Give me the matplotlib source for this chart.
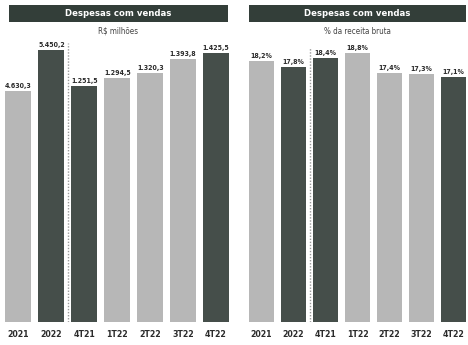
import matplotlib
matplotlib.use("Agg")
import matplotlib.pyplot as plt
from matplotlib.patches import Rectangle

plt.rcParams['font.family'] = ['DejaVu Sans']
plt.rcParams['font.stretch'] = 'condensed'

# Periods
annual_labels = ["2021", "2022"]
quarter_labels = ["4T21", "1T22", "2T22", "3T22", "4T22"]

# Despesas com vendas, R$ milhões
annual_brl = [4630.3, 5450.2]
quarter_brl = [1251.5, 1294.5, 1320.3, 1393.8, 1425.5]

# Despesas com vendas, % da receita bruta
annual_pct = [18.2, 17.8]
quarter_pct = [18.4, 18.8, 17.4, 17.3, 17.1]

brl_text_annual = ["4.630,3", "5.450,2"]
brl_text_quarter = ["1.251,5", "1.294,5", "1.320,3", "1.393,8", "1.425,5"]

LIGHT = "#b7b7b7"
DARK = "#454e4a"
BAND = "#333e39"
TXT = "#2b2b2b"

annual_colors = [LIGHT, DARK]
quarter_colors = [DARK, LIGHT, LIGHT, LIGHT, DARK]

W, H = 468, 345
fig = plt.figure(figsize=(W / 100, H / 100), dpi=100)
fig.patch.set_facecolor("white")

def fx(px):
    return px / W

def fy(py):
    return 1 - py / H

bottom_px, top_px = 322, 40
ax_h = (bottom_px - top_px) / H
bar_w = 0.79
lab_kw = dict(ha="center", va="bottom", fontsize=5.0, fontweight="bold", color=TXT)

def panel(left_px, width_px, band_l, band_w, title, subtitle):
    ax = fig.add_axes([fx(left_px), fy(bottom_px), fx(width_px), ax_h])
    ax.set_xlim(-0.5, 6.5)
    for s in ax.spines.values():
        s.set_visible(False)
    ax.set_yticks([])
    ax.set_xticks(range(7))
    ax.set_xticklabels(annual_labels + quarter_labels, fontsize=6.3,
                       fontweight="bold", color=TXT)
    ax.tick_params(axis="x", length=0, pad=6)
    ax.patch.set_alpha(0)
    # title band
    fig.patches.append(Rectangle((fx(band_l), fy(22)), fx(band_w), 17 / H,
                                 transform=fig.transFigure, facecolor=BAND,
                                 edgecolor="none", zorder=0))
    fig.text(fx(band_l + band_w / 2), fy(13.5), title, ha="center", va="center",
             fontsize=6.8, fontweight="bold", color="white")
    fig.text(fx(band_l + band_w / 2), fy(31), subtitle, ha="center", va="center",
             fontsize=5.8, color="#444444")
    return ax

# Left panel: R$ milhões (annual and quarterly on their own scales)
axL = panel(2, 230.5, 9, 219, "Despesas com vendas", "R$ milhões")
axL.set_ylim(0, max(annual_brl) * 282 / 272)
xa = [0, 1]
xq = [2, 3, 4, 5, 6]
axL.bar(xa, annual_brl, width=bar_w, color=annual_colors)
for x, v, t in zip(xa, annual_brl, brl_text_annual):
    axL.annotate(t, (x, v), xytext=(0, 1.5), textcoords="offset points", **lab_kw)
axLq = axL.twinx()
axLq.set_ylim(0, max(quarter_brl) * 282 / 269)
axLq.set_yticks([])
for s in axLq.spines.values():
    s.set_visible(False)
axLq.bar(xq, quarter_brl, width=bar_w, color=quarter_colors)
for x, v, t in zip(xq, quarter_brl, brl_text_quarter):
    axLq.annotate(t, (x, v), xytext=(0, 1.5), textcoords="offset points", **lab_kw)
axL.axvline(1.5, ymin=0, ymax=0.99, color="#9a9a9a", linestyle=(0, (1, 1.2)), lw=1.0)

# Right panel: % da receita bruta
axR = panel(245.5, 224, 249, 217, "Despesas com vendas", "% da receita bruta")
pct_all = annual_pct + quarter_pct
axR.set_ylim(0, quarter_pct[-1] * 282 / 245)
axR.bar(range(7), pct_all, width=bar_w, color=annual_colors + quarter_colors)
for x, v in enumerate(pct_all):
    axR.annotate(f"{v:.1f}%".replace(".", ","), (x, v), xytext=(0, 1.5),
                 textcoords="offset points", **lab_kw)
axR.axvline(1.5, ymin=0, ymax=0.97, color="#9a9a9a", linestyle=(0, (1, 1.2)), lw=1.0)

fig.savefig("out.png", dpi=100, facecolor="white")
